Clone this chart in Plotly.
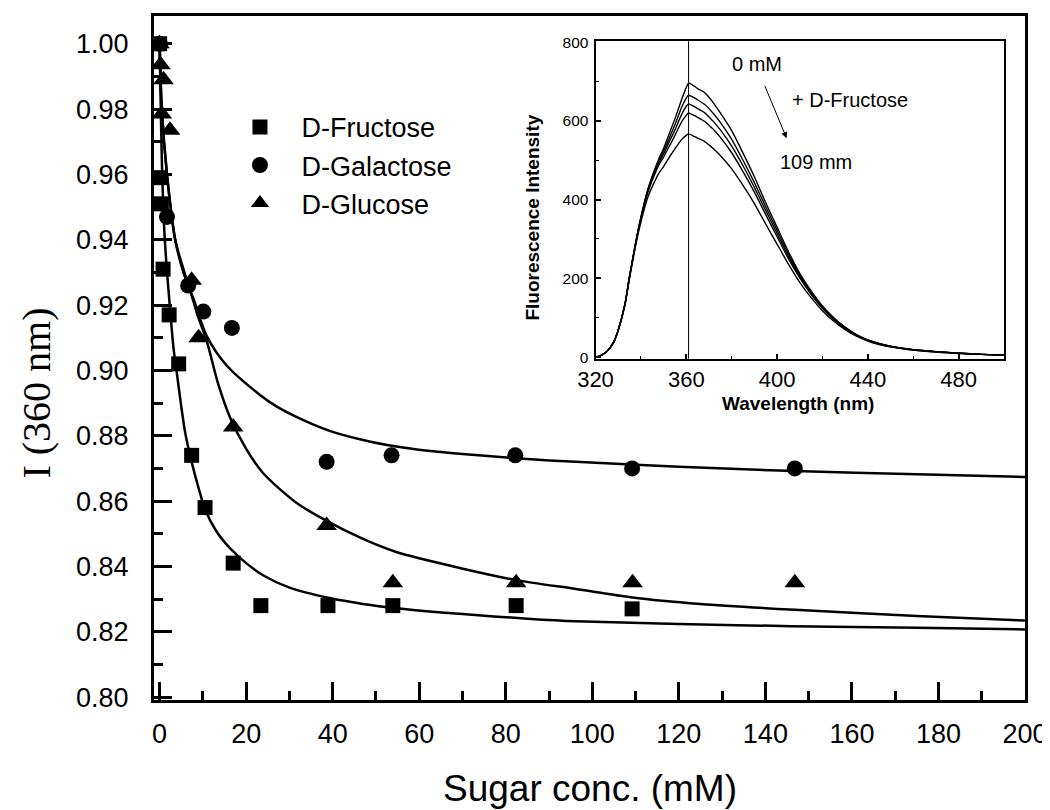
import plotly.graph_objects as go

# ---------------- main plot data ----------------
fru_x = [0, 0.2, 0.4, 0.8, 2.2, 4.4, 7.4, 10.5, 17.0, 23.4, 38.9, 53.9, 82.4, 109.2]
fru_y = [1.000, 0.959, 0.951, 0.931, 0.917, 0.902, 0.874, 0.858, 0.841, 0.828, 0.828, 0.828, 0.828, 0.827]

gal_x = [0, 1.7, 6.6, 10.1, 16.7, 38.6, 53.6, 82.2, 109.2, 146.8]
gal_y = [1.000, 0.947, 0.926, 0.918, 0.913, 0.872, 0.874, 0.874, 0.870, 0.870]

glu_x = [0, 0.2, 0.5, 0.9, 2.4, 7.4, 9.0, 17.0, 38.6, 53.9, 82.4, 109.3, 146.8]
glu_y = [1.000, 0.9936, 0.9785, 0.989, 0.9735, 0.9276, 0.910, 0.8827, 0.8525, 0.835, 0.835, 0.835, 0.835]

fit_fru_x = [0, 0.2, 0.5, 1.0, 1.6, 2.4, 3.2, 4.0, 5.0, 5.9, 7.4, 9.0, 10.5, 13.0, 16.3, 20.0,
             23.9, 30.0, 39.3, 47.0, 54.7, 70.0, 85.0, 96.2, 120.0, 146.0, 175.0, 200.0]
fit_fru_y = [1.000, 0.985, 0.965, 0.945, 0.932, 0.919, 0.907, 0.899, 0.889, 0.881, 0.872, 0.864,
             0.8575, 0.851, 0.8455, 0.841, 0.8373, 0.8335, 0.8303, 0.8285, 0.8272, 0.8254,
             0.8240, 0.8232, 0.8224, 0.8217, 0.8212, 0.8207]

fit_gal_x = [0, 0.5, 1.7, 3.6, 5.5, 7.8, 10.9, 15.5, 23.2, 27.0, 31.6, 39.3, 47.0, 54.7, 62.0,
             70.0, 82.4, 96.2, 120.0, 146.8, 175.0, 200.0]
fit_gal_y = [1.000, 0.980, 0.960, 0.940, 0.930, 0.922, 0.9105, 0.9015, 0.8925, 0.889, 0.8858,
             0.8815, 0.8787, 0.8767, 0.8754, 0.8744, 0.8731, 0.8720, 0.8705, 0.8692, 0.8682, 0.8674]

fit_glu_x = [0, 0.5, 1.7, 3.6, 5.5, 7.4, 9.0, 10.9, 13.5, 16.3, 20.0, 23.9, 31.6, 38.5, 47.0,
             54.7, 70.1, 82.4, 96.2, 109.2, 125.0, 146.8, 175.0, 200.0]
fit_glu_y = [1.000, 0.980, 0.960, 0.940, 0.931, 0.923, 0.916, 0.909, 0.896, 0.8855, 0.876,
             0.8686, 0.8595, 0.854, 0.8484, 0.8444, 0.8393, 0.8358, 0.8331, 0.8305, 0.8285,
             0.8267, 0.8248, 0.8234]

x_ticks = list(range(0, 201, 20))
y_ticks = [0.80, 0.82, 0.84, 0.86, 0.88, 0.90, 0.92, 0.94, 0.96, 0.98, 1.00]

# ---------------- inset data (fluorescence spectra) ----------------
wl = [320, 322, 325, 328, 330, 333, 335, 338, 340, 343, 345, 348, 350, 353, 355, 358, 360, 361,
      363, 365, 368, 370, 372, 375, 380, 385, 390, 395, 400, 405, 410, 415, 420, 425, 430, 435,
      440, 445, 450, 460, 470, 480, 490, 500]
spec_0mM = [0, 3, 14, 38, 68, 135, 205, 300, 355, 425, 460, 505, 530, 575, 605, 655, 685, 696,
            690, 682, 672, 660, 645, 620, 575, 518, 458, 392, 330, 268, 213, 168, 130, 100, 76, 57,
            44, 35, 28, 19, 14, 10, 7, 5]
spec_2 = [0, 3, 14, 38, 68, 135, 205, 300, 355, 423, 457, 500, 523, 563, 590, 635, 658, 665,
          660, 653, 642, 631, 618, 596, 553, 500, 443, 382, 322, 262, 209, 165, 128, 98, 75, 56,
          43, 34, 27, 19, 14, 10, 7, 5]
spec_3 = [0, 3, 14, 38, 68, 135, 205, 298, 352, 420, 453, 495, 516, 553, 577, 617, 637, 643,
          638, 631, 621, 610, 598, 577, 536, 486, 431, 372, 314, 256, 205, 162, 126, 97, 74, 56,
          43, 34, 27, 19, 14, 10, 7, 5]
spec_4 = [0, 3, 14, 38, 68, 135, 205, 298, 350, 417, 449, 489, 508, 541, 563, 598, 614, 620,
          615, 609, 599, 589, 578, 558, 519, 471, 419, 362, 306, 250, 201, 159, 124, 95, 73, 55,
          42, 33, 27, 18, 13, 10, 7, 5]
spec_109mM = [0, 3, 14, 38, 68, 133, 200, 292, 343, 405, 433, 468, 484, 512, 529, 553, 563, 567,
              562, 556, 548, 539, 529, 512, 478, 436, 390, 338, 287, 236, 190, 151, 118, 91, 70, 53,
              41, 32, 26, 18, 13, 9, 7, 5]
spectra = [spec_0mM, spec_2, spec_3, spec_4, spec_109mM]
peak_nm = 361
inset_x_ticks = [320, 360, 400, 440, 480]
inset_y_ticks = [0, 200, 400, 600, 800]

SANS = "Liberation Sans, Arial, sans-serif"
SERIF = "Liberation Serif, Times New Roman, serif"

fig = go.Figure()

# fitted curves
for fx, fy in [(fit_fru_x, fit_fru_y), (fit_gal_x, fit_gal_y), (fit_glu_x, fit_glu_y)]:
    fig.add_trace(go.Scatter(x=fx, y=fy, mode="lines", showlegend=False, hoverinfo="skip",
                             line=dict(color="black", width=2.5, shape="spline", smoothing=0.8)))

# data markers
fig.add_trace(go.Scatter(x=fru_x, y=fru_y, mode="markers", name="D-Fructose",
                         marker=dict(symbol="square", size=15, color="black")))
fig.add_trace(go.Scatter(x=gal_x, y=gal_y, mode="markers", name="D-Galactose",
                         marker=dict(symbol="circle", size=16, color="black")))
fig.add_trace(go.Scatter(x=glu_x, y=glu_y, mode="markers", name="D-Glucose",
                         marker=dict(symbol="triangle-up", size=18, color="black")))

# inset spectra
for s in spectra:
    fig.add_trace(go.Scatter(x=wl, y=s, xaxis="x2", yaxis="y2", mode="lines", showlegend=False,
                             hoverinfo="skip",
                             line=dict(color="black", width=1.4, shape="spline", smoothing=0.6)))

fig.update_layout(
    width=1050, height=810, autosize=False,
    margin=dict(l=146, r=33, t=0, b=118),
    paper_bgcolor="white", plot_bgcolor="white",
    showlegend=True,
    legend=dict(x=0.074, y=0.873, xanchor="left", yanchor="top",
                bgcolor="rgba(0,0,0,0)", borderwidth=0,
                font=dict(family=SANS, size=27, color="black"),
                itemwidth=73, itemsizing="trace", tracegroupgap=0),
    xaxis=dict(range=[-1.3, 200], tickvals=x_ticks, ticks="inside", ticklen=18, tickwidth=2.5,
               tickcolor="black", showline=True, linewidth=3, linecolor="black", mirror=True,
               showgrid=False, zeroline=False, ticklabeloverflow="allow",
               minor=dict(dtick=10, tick0=0, ticks="inside", ticklen=9, tickwidth=2.5,
                          tickcolor="black", showgrid=False),
               tickfont=dict(family=SANS, size=27, color="black"), ticklabelstandoff=8),
    yaxis=dict(range=[0.7991, 1.0085], tickvals=y_ticks, tickformat=".2f", ticks="inside",
               ticklen=18, tickwidth=2.5, tickcolor="black", showline=True, linewidth=3,
               linecolor="black", mirror=True, showgrid=False, zeroline=False,
               minor=dict(dtick=0.01, tick0=0.8, ticks="inside", ticklen=9, tickwidth=2.5,
                          tickcolor="black", showgrid=False),
               tickfont=dict(family=SANS, size=27, color="black"), ticklabelstandoff=17),
    xaxis2=dict(domain=[0.5069, 0.9759], anchor="y2", range=[320, 500], tickvals=inset_x_ticks,
                ticks="inside", ticklen=5, tickwidth=1.5, tickcolor="black", showline=True,
                linewidth=2, linecolor="black", mirror=True, showgrid=False, zeroline=False,
                minor=dict(dtick=20, tick0=320, ticks="inside", ticklen=3, tickwidth=1.2,
                           tickcolor="black", showgrid=False),
                tickfont=dict(family=SANS, size=22, color="black"), ticklabelstandoff=0),
    yaxis2=dict(domain=[0.499, 0.963], anchor="x2", range=[-4, 802], tickvals=inset_y_ticks,
                ticks="inside", ticklen=5, tickwidth=1.5, tickcolor="black", showline=True,
                linewidth=2, linecolor="black", mirror=True, showgrid=False, zeroline=False,
                minor=dict(dtick=100, tick0=0, ticks="inside", ticklen=3, tickwidth=1.2,
                           tickcolor="black", showgrid=False),
                tickfont=dict(family=SANS, size=15.5, color="black"), ticklabelstandoff=2),
)

# vertical marker line at the emission peak in the inset
fig.add_shape(type="line", xref="x2", yref="y2 domain", x0=peak_nm, x1=peak_nm, y0=0, y1=1,
              line=dict(color="black", width=1))

annotations = [
    # main axis titles
    dict(text="Sugar conc. (mM)", xref="paper", yref="paper", x=0.5, y=-0.1301,
         xanchor="center", yanchor="middle", showarrow=False,
         font=dict(family=SANS, size=37, color="black")),
    dict(text="I (360 nm)", xref="paper", yref="paper", x=-0.1343, y=0.448, textangle=-90,
         xanchor="center", yanchor="middle", showarrow=False,
         font=dict(family=SERIF, size=40, color="black")),
    # inset axis titles
    dict(text="<b>Wavelength (nm)</b>", xref="paper", yref="paper", x=0.7394, y=0.4335,
         xanchor="center", yanchor="middle", showarrow=False,
         font=dict(family=SANS, size=19, color="black")),
    dict(text="<b>Fluorescence Intensity</b>", xref="paper", yref="paper", x=0.4351, y=0.7052,
         textangle=-90, xanchor="center", yanchor="middle", showarrow=False,
         font=dict(family=SANS, size=19, color="black")),
    # inset labels
    dict(text="0 mM", xref="x2", yref="y2", x=391, y=745, showarrow=False,
         font=dict(family=SANS, size=20, color="black")),
    dict(text="+ D-Fructose", xref="x2", yref="y2", x=432, y=653, showarrow=False,
         font=dict(family=SANS, size=20, color="black")),
    dict(text="109 mm", xref="x2", yref="y2", x=417, y=496, showarrow=False,
         font=dict(family=SANS, size=20, color="black")),
    dict(text="", xref="x2", yref="y2", x=404.2, y=556, axref="x2", ayref="y2", ax=394.3, ay=693,
         showarrow=True, arrowhead=2, arrowsize=1.2, arrowwidth=1, arrowcolor="black"),
]
fig.update_layout(annotations=annotations)

fig.write_html("out.html")
